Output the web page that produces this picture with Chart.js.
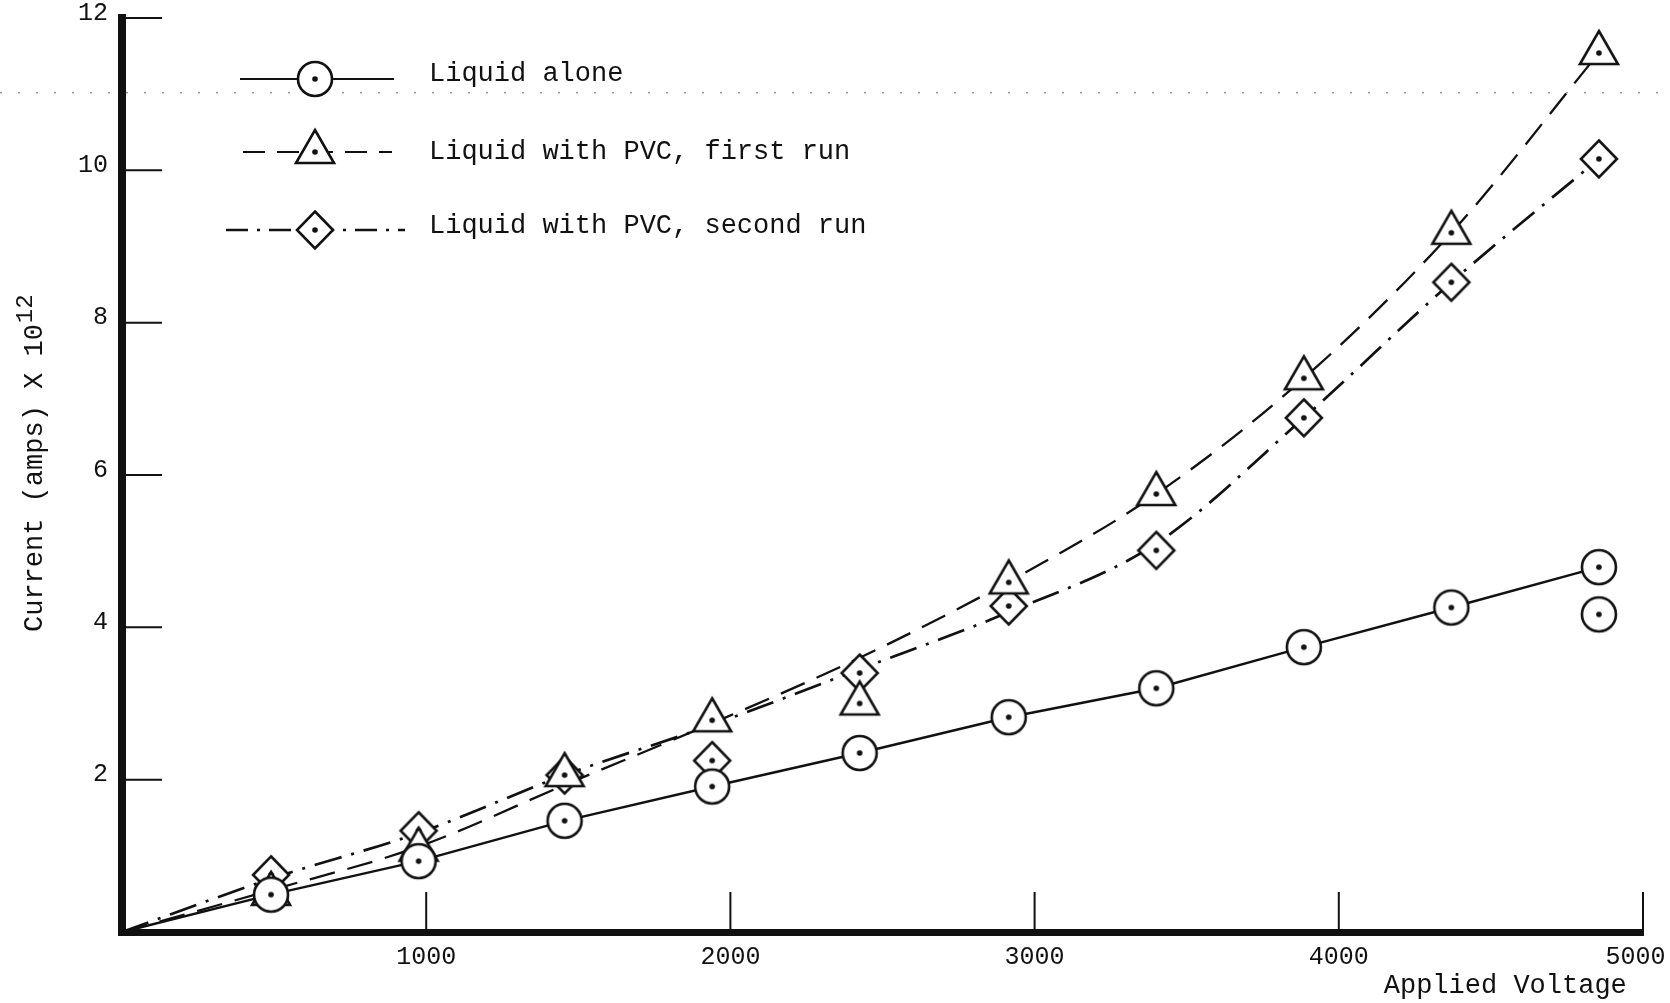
<!DOCTYPE html>
<html>
<head>
<meta charset="utf-8">
<title>Current vs applied voltage</title>
<script src="https://cdn.jsdelivr.net/npm/chart.js@4.4.1/dist/chart.umd.min.js"></script>
<style>
  html, body { margin: 0; padding: 0; background: #fff; }
  #wrap { width: 1670px; height: 1003px; }
</style>
</head>
<body>
<div id="wrap"><canvas id="chart" width="1670" height="1003"></canvas></div>
<script>
// Measured points: applied voltage and current (amps x 10^12)
const voltage = [490, 975, 1455, 1940, 2425, 2915, 3400, 3885, 4370, 4855];
const liquidAlone = [0.49, 0.93, 1.46, 1.91, 2.35, 2.82, 3.20, 3.74, 4.26, 4.79];
const repeatVoltage = [4855];
const liquidAloneRepeat = [4.17];
const pvcFirstRun = [0.50, 1.08, 2.06, 2.78, 3.00, 4.59, 5.75, 7.27, 9.18, 11.54];
const pvcSecondRun = [0.75, 1.33, 2.06, 2.25, 3.40, 4.28, 5.01, 6.75, 8.53, 10.15];

// Hand drawn curves through the PVC runs
const curveVoltage = [0, 490, 975, 1455, 1940, 2425, 2915, 3400, 3885, 4370, 4855];
const firstRunCurve = [0, 0.55, 1.12, 1.93, 2.74, 3.60, 4.60, 5.75, 7.27, 9.18, 11.54];
const secondRunCurve = [0, 0.70, 1.30, 2.06, 2.72, 3.45, 4.20, 5.10, 6.75, 8.53, 10.15];

// Axis ticks
const xTicks = [1000, 2000, 3000, 4000, 5000];
const yTicks = [2, 4, 6, 8, 10, 12];

// faint dotted scan line near the top of the sheet
const scanLineLevel = 11.02;

const ink = '#111';
const typeFont = 'Liberation Mono';

function pairs(xs, ys) {
    return xs.map((x, i) => ({ x: x, y: ys[i] }));
}

// Marker images: open symbol with a dot on the data point
function makeMarker(kind) {
    const c = document.createElement('canvas');
    c.width = 52;
    c.height = 52;
    const g = c.getContext('2d');
    const cx = 26, cy = 26;
    g.lineWidth = 2.6;
    g.strokeStyle = ink;
    g.fillStyle = '#fff';
    g.beginPath();
    if (kind === 'circle') {
        g.arc(cx, cy, 17, 0, Math.PI * 2);
    } else if (kind === 'triangle') {
        const h = 33, w = 38;
        g.moveTo(cx, cy - 2 * h / 3);
        g.lineTo(cx + w / 2, cy + h / 3);
        g.lineTo(cx - w / 2, cy + h / 3);
        g.closePath();
    } else {
        g.moveTo(cx, cy - 18.5);
        g.lineTo(cx + 18, cy);
        g.lineTo(cx, cy + 18.5);
        g.lineTo(cx - 18, cy);
        g.closePath();
    }
    g.fill();
    g.stroke();
    g.beginPath();
    g.arc(cx, cy, 2.8, 0, Math.PI * 2);
    g.fillStyle = ink;
    g.fill();
    return c;
}

const circleMark = makeMarker('circle');
const triangleMark = makeMarker('triangle');
const diamondMark = makeMarker('diamond');

const dashFirst = [26, 13];
const dashSecond = [28, 10, 3, 10];

// Dotted scan artefact across the sheet
const scanLinePlugin = {
    id: 'scanLine',
    beforeDatasetsDraw(chart) {
        const y = chart.scales.y.getPixelForValue(scanLineLevel);
        const ctx = chart.ctx;
        ctx.save();
        ctx.strokeStyle = '#a0a0a0';
        ctx.lineWidth = 1.5;
        ctx.setLineDash([2, 16]);
        ctx.beginPath();
        ctx.moveTo(0, y);
        ctx.lineTo(chart.width, y);
        ctx.stroke();
        ctx.restore();
    }
};

// Tick marks pointing into the plot
const innerTicksPlugin = {
    id: 'innerTicks',
    afterDraw(chart) {
        const { ctx, chartArea, scales } = chart;
        const len = 40;
        ctx.save();
        ctx.strokeStyle = ink;
        ctx.lineWidth = 2;
        ctx.beginPath();
        xTicks.forEach(v => {
            const px = scales.x.getPixelForValue(v);
            ctx.moveTo(px, chartArea.bottom);
            ctx.lineTo(px, chartArea.bottom - len);
        });
        yTicks.forEach(v => {
            const py = scales.y.getPixelForValue(v);
            ctx.moveTo(chartArea.left, py);
            ctx.lineTo(chartArea.left + len, py);
        });
        ctx.stroke();
        // close the corner of the two heavy axes
        ctx.fillStyle = ink;
        ctx.fillRect(chartArea.left - 4, chartArea.bottom - 3, 8, 7);
        ctx.restore();
    }
};

// Rotated y title with a raised exponent
const yTitlePlugin = {
    id: 'yTitle',
    afterDraw(chart) {
        const ctx = chart.ctx;
        ctx.save();
        ctx.translate(35, 632);
        ctx.rotate(-Math.PI / 2);
        ctx.fillStyle = ink;
        ctx.textAlign = 'left';
        ctx.textBaseline = 'middle';
        ctx.font = '27px "' + typeFont + '"';
        const base = 'Current (amps) X 10';
        ctx.fillText(base, 0, 0);
        const w = ctx.measureText(base).width;
        ctx.font = '24px "' + typeFont + '"';
        ctx.fillText('12', w + 1, -9);
        ctx.restore();
    }
};

// Legend drawn inside the plot, as on the original sheet
const legendPlugin = {
    id: 'sheetLegend',
    afterDraw(chart) {
        const ctx = chart.ctx;
        const entries = [
            { text: 'Liquid alone', mark: circleMark, dash: [], width: 2.2, x1: 240, x2: 394, y: 79, ty: 74 },
            { text: 'Liquid with PVC, first run', mark: triangleMark, dash: [22, 12], width: 2.2, x1: 243, x2: 392, y: 152, ty: 152 },
            { text: 'Liquid with PVC, second run', mark: diamondMark, dash: [22, 9, 3, 9], width: 2.4, x1: 226, x2: 405, y: 230, ty: 226 }
        ];
        ctx.save();
        entries.forEach(e => {
            ctx.strokeStyle = ink;
            ctx.lineWidth = e.width;
            ctx.setLineDash(e.dash);
            ctx.beginPath();
            ctx.moveTo(e.x1, e.y);
            ctx.lineTo(e.x2, e.y);
            ctx.stroke();
            ctx.setLineDash([]);
            ctx.drawImage(e.mark, 315 - e.mark.width / 2, e.y - e.mark.height / 2);
            ctx.fillStyle = ink;
            ctx.font = '27px "' + typeFont + '"';
            ctx.textAlign = 'left';
            ctx.textBaseline = 'middle';
            ctx.fillText(e.text, 429, e.ty);
        });
        ctx.restore();
    }
};

function createChart() {
    const ctx = document.getElementById('chart');
    const lastX = xTicks[xTicks.length - 1];

    new Chart(ctx, {
        type: 'line',
        data: {
            datasets: [
                {
                    label: 'Liquid alone',
                    type: 'scatter',
                    data: pairs(voltage, liquidAlone).concat(pairs(repeatVoltage, liquidAloneRepeat)),
                    pointStyle: circleMark,
                    pointRadius: 17,
                    showLine: false,
                    order: 0
                },
                {
                    label: 'Liquid with PVC, first run',
                    type: 'scatter',
                    data: pairs(voltage, pvcFirstRun),
                    pointStyle: triangleMark,
                    pointRadius: 17,
                    showLine: false,
                    order: 0
                },
                {
                    label: 'Liquid with PVC, second run',
                    type: 'scatter',
                    data: pairs(voltage, pvcSecondRun),
                    pointStyle: diamondMark,
                    pointRadius: 17,
                    showLine: false,
                    order: 0
                },
                {
                    label: 'Liquid alone line',
                    data: [{ x: 0, y: 0 }].concat(pairs(voltage, liquidAlone)),
                    borderColor: ink,
                    borderWidth: 2.4,
                    pointRadius: 0,
                    tension: 0,
                    order: 5
                },
                {
                    label: 'First run curve',
                    data: pairs(curveVoltage, firstRunCurve),
                    borderColor: ink,
                    borderWidth: 2.3,
                    borderDash: dashFirst,
                    pointRadius: 0,
                    cubicInterpolationMode: 'monotone',
                    order: 5
                },
                {
                    label: 'Second run curve',
                    data: pairs(curveVoltage, secondRunCurve),
                    borderColor: ink,
                    borderWidth: 2.7,
                    borderDash: dashSecond,
                    pointRadius: 0,
                    cubicInterpolationMode: 'monotone',
                    order: 5
                }
            ]
        },
        options: {
            responsive: false,
            animation: false,
            events: [],
            clip: false,
            layout: {
                padding: { top: 17, right: 27, left: 0, bottom: 0 }
            },
            plugins: {
                legend: { display: false },
                tooltip: { enabled: false }
            },
            scales: {
                x: {
                    type: 'linear',
                    min: 0,
                    max: 5000,
                    afterBuildTicks: scale => { scale.ticks = xTicks.map(v => ({ value: v })); },
                    afterFit: scale => {
                        scale.height = 71;
                        scale.paddingLeft = 0;
                        scale.paddingRight = 0;
                    },
                    grid: { display: false, drawTicks: false },
                    border: { display: true, color: ink, width: 7 },
                    ticks: {
                        color: ink,
                        padding: 10,
                        maxRotation: 0,
                        font: { family: typeFont, size: 25 },
                        // last label sits a little left of its tick, clear of the sheet edge
                        callback: value => value === lastX ? value + '\u00a0' : String(value)
                    },
                    title: {
                        display: true,
                        text: 'Applied Voltage\u00a0',
                        align: 'end',
                        color: ink,
                        padding: { top: 0, bottom: 1 },
                        font: { family: typeFont, size: 27 }
                    }
                },
                y: {
                    type: 'linear',
                    min: 0,
                    max: 12,
                    afterBuildTicks: scale => { scale.ticks = yTicks.map(v => ({ value: v })); },
                    afterFit: scale => {
                        scale.width = 122;
                        scale.paddingTop = 0;
                        scale.paddingBottom = 0;
                    },
                    grid: { display: false, drawTicks: false },
                    border: { display: true, color: ink, width: 8 },
                    ticks: {
                        color: ink,
                        padding: 14,
                        labelOffset: -5,
                        font: { family: typeFont, size: 25 },
                        callback: value => String(value)
                    }
                }
            }
        },
        plugins: [scanLinePlugin, innerTicksPlugin, yTitlePlugin, legendPlugin]
    });
}

window.addEventListener('load', createChart);
</script>
</body>
</html>
